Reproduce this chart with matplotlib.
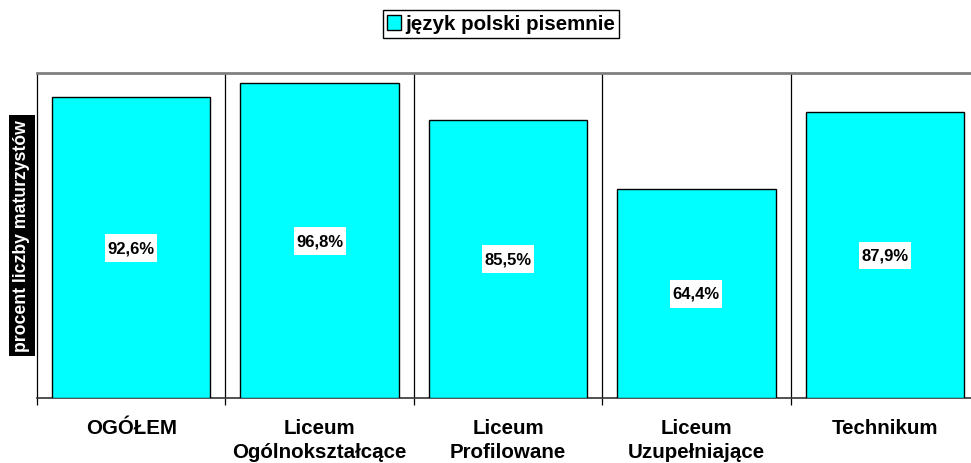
import matplotlib
matplotlib.use('Agg')
import matplotlib.pyplot as plt
from matplotlib.patches import Patch, Rectangle

categories = ['OGÓŁEM', 'Liceum\nOgólnokształcące', 'Liceum\nProfilowane',
              'Liceum\nUzupełniające', 'Technikum']
values = [92.6, 96.8, 85.5, 64.4, 87.9]
value_labels = ['92,6%', '96,8%', '85,5%', '64,4%', '87,9%']
series_name = 'język polski pisemnie'
y_label = 'procent liczby maturzystów'

BAR_COLOR = '#00FFFF'
plt.rcParams['font.family'] = ['Liberation Sans', 'DejaVu Sans']

fig = plt.figure(figsize=(9.71, 4.64), dpi=100)
ax = fig.add_axes([37 / 971, 65 / 464, 942 / 971, 325 / 464])

x = list(range(len(categories)))
ax.bar(x, values, width=0.84, color=BAR_COLOR, edgecolor='black',
       linewidth=1, zorder=3)

# white boxes with the value in the middle of each bar
for xi, v, lab in zip(x, values, value_labels):
    ax.add_patch(Rectangle((xi - 0.138, v / 2 - 4.4), 0.276, 8.6,
                           facecolor='white', edgecolor='none', zorder=4))
    ax.text(xi, v / 2, lab, ha='center', va='center', fontsize=12,
            fontweight='bold', zorder=5)

ax.set_xlim(-0.5, len(categories) - 0.5)
ax.set_ylim(0, 100)

# vertical separators between categories
for b in range(1, len(categories)):
    ax.axvline(b - 0.5, color='black', linewidth=0.9, zorder=1)

ax.set_xticks(x)
ax.set_xticklabels(categories, fontsize=14.8, fontweight='bold',
                   linespacing=1.35)
ax.tick_params(axis='x', which='major', length=0, pad=14.5)
ax.set_xticks([b - 0.5 for b in range(len(categories) + 1)], minor=True)
ax.tick_params(axis='x', which='minor', length=5, width=0.9,
               direction='out', color='black')
ax.set_yticks([])

ax.spines['top'].set_color('#808080')
ax.spines['top'].set_linewidth(2)
ax.spines['right'].set_visible(False)
ax.spines['left'].set_color('black')
ax.spines['left'].set_linewidth(0.9)
ax.spines['bottom'].set_color('#333333')
ax.spines['bottom'].set_linewidth(1.2)

fig.text(22 / 971, 1 - 236.5 / 464, y_label, rotation=90, ha='center',
         va='center', fontsize=12.7, fontweight='bold', color='white',
         bbox=dict(boxstyle='square,pad=0.28', facecolor='black',
                   edgecolor='none'))

handle = Patch(facecolor=BAR_COLOR, edgecolor='black', linewidth=1)
leg = fig.legend([handle], [series_name], loc='center',
                 bbox_to_anchor=(501 / 971, 1 - 25 / 464),
                 prop={'size': 14.8, 'weight': 'bold'},
                 handlelength=0.7, handleheight=0.7, handletextpad=0.2,
                 borderpad=0.2, borderaxespad=0, fancybox=False,
                 framealpha=1)
leg.get_frame().set_edgecolor('black')
leg.get_frame().set_linewidth(1)

fig.savefig('out.png', dpi=100)
